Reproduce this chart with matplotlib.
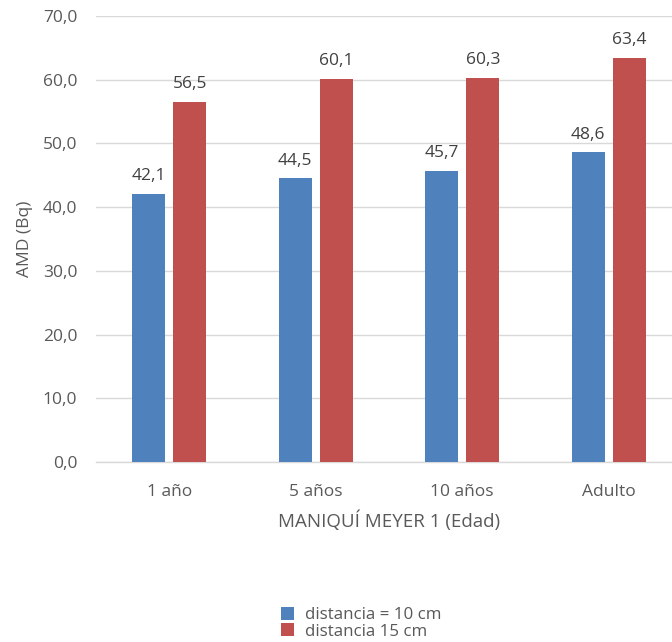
import matplotlib
matplotlib.use("Agg")
import matplotlib.pyplot as plt
import numpy as np
from matplotlib.patches import Patch

categories = ["1 año", "5 años", "10 años", "Adulto"]
dist10 = [42.1, 44.5, 45.7, 48.6]
dist15 = [56.5, 60.1, 60.3, 63.4]
series_names = ["distancia = 10 cm", "distancia 15 cm"]
yticks = [0, 10, 20, 30, 40, 50, 60, 70]

blue = "#4F81BD"
red = "#C0504D"
txt = "#595959"

plt.rcParams['font.family'] = ['Open Sans', 'DejaVu Sans']

fig = plt.figure(figsize=(6.72, 6.42), dpi=100)
ax = fig.add_axes([96/672, 180/642, 586/672, 446/642])

x = np.arange(len(categories))
w = 0.225
off = 0.14
b1 = ax.bar(x - off, dist10, w, color=blue, zorder=3)
b2 = ax.bar(x + off, dist15, w, color=red, zorder=3)

def fmt(v):
    return f"{v:.1f}".replace(".", ",")

for bars, vals in ((b1, dist10), (b2, dist15)):
    for r, v in zip(bars, vals):
        ax.annotate(fmt(v), (r.get_x() + r.get_width()/2, v), xytext=(0, 7),
                    textcoords="offset points", ha="center", va="bottom",
                    fontsize=12.5, color="#404040")

ax.set_xlim(-0.5, 3.5)
ax.set_ylim(0, 70)
ax.set_yticks(yticks)
ax.set_yticklabels([fmt(t) for t in yticks])
ax.set_xticks(x)
ax.set_xticklabels(categories)
ax.tick_params(axis='y', length=0, pad=13.5, labelsize=12.5, labelcolor=txt)
ax.tick_params(axis='x', length=0, pad=16, labelsize=12.5, labelcolor=txt)
ax.grid(axis='y', color="#D9D9D9", linewidth=1, zorder=0)
for s in ("top", "right", "left"):
    ax.spines[s].set_visible(False)
ax.spines["bottom"].set_color("#D9D9D9")
ax.spines["bottom"].set_linewidth(1)
ax.spines["bottom"].set_zorder(1)

ax.set_xlabel("MANIQUÍ MEYER 1 (Edad)", fontsize=13.5, color=txt)
ax.xaxis.set_label_coords(0.5, -(521 - 462) / 446, transform=ax.transAxes)
ax.xaxis.label.set_va("center")
ax.set_ylabel("AMD (Bq)", fontsize=12.5, color=txt)
ax.yaxis.set_label_coords(-(96 - 25) / 586, 0.5)
ax.yaxis.label.set_va("center")

handles = [Patch(facecolor=blue), Patch(facecolor=red)]
fig.legend(handles, series_names, loc="upper left", bbox_to_anchor=(269/672, 1 - 595/642),
           frameon=False, fontsize=12.2, labelcolor=txt, handlelength=0.8, handleheight=0.8,
           handletextpad=0.6, labelspacing=0.0, borderpad=0.2)

fig.savefig("out.png", dpi=100)
